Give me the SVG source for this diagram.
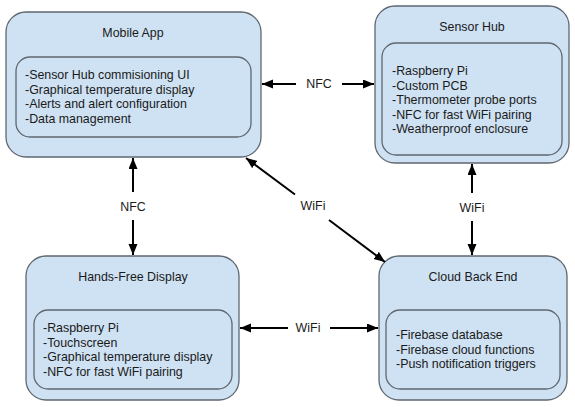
<svg xmlns="http://www.w3.org/2000/svg" width="575" height="407" viewBox="0 0 575 407">
<defs>
<marker id="ah" markerUnits="userSpaceOnUse" markerWidth="12" markerHeight="10" refX="11" refY="4.5" orient="auto">
<path d="M0,0 L11,4.5 L0,9 z" fill="#000"/>
</marker>
</defs>
<style>
.outer{fill:#cfe2f3;stroke:#5f6770;stroke-width:1.3}
.inner{fill:#cfe2f3;stroke:#5f6770;stroke-width:1.3}
text{font-family:"Liberation Sans",Arial,sans-serif;font-size:12.4px;fill:#1a1a1a}
.t{text-anchor:middle}
.c{stroke:#000;stroke-width:2;fill:none;marker-end:url(#ah)}
.lbl{text-anchor:middle;dominant-baseline:central}
</style>
<rect width="575" height="407" fill="#fff"/>
<g id="mobile-app">
<rect class="outer" x="6" y="12" width="255" height="145" rx="20"/>
<text class="t" x="133" y="37">Mobile App</text>
<rect class="inner" x="16" y="57" width="235" height="80" rx="14"/>
<text x="25" y="79">-Sensor Hub commisioning UI</text>
<text x="25" y="93.5">-Graphical temperature display</text>
<text x="25" y="108">-Alerts and alert configuration</text>
<text x="25" y="122.5">-Data management</text>
</g>
<g id="sensor-hub">
<rect class="outer" x="375" y="6" width="194" height="157" rx="20"/>
<text class="t" x="472" y="31">Sensor Hub</text>
<rect class="inner" x="382" y="43" width="180" height="112" rx="14"/>
<text x="392" y="75">-Raspberry Pi</text>
<text x="392" y="89.5">-Custom PCB</text>
<text x="392" y="104">-Thermometer probe ports</text>
<text x="392" y="118.5">-NFC for fast WiFi pairing</text>
<text x="392" y="133">-Weatherproof enclosure</text>
</g>
<g id="hands-free-display">
<rect class="outer" x="26" y="256" width="213" height="144" rx="20"/>
<text class="t" x="133" y="281">Hands-Free Display</text>
<rect class="inner" x="34" y="310" width="198" height="79" rx="14"/>
<text x="43" y="332">-Raspberry Pi</text>
<text x="43" y="346.5">-Touchscreen</text>
<text x="43" y="361">-Graphical temperature display</text>
<text x="43" y="375.5">-NFC for fast WiFi pairing</text>
</g>
<g id="cloud-back-end">
<rect class="outer" x="379" y="256" width="188" height="144" rx="20"/>
<text class="t" x="473" y="281">Cloud Back End</text>
<rect class="inner" x="386" y="310" width="174" height="79" rx="14"/>
<text x="396" y="339">-Firebase database</text>
<text x="396" y="353.5">-Firebase cloud functions</text>
<text x="396" y="368">-Push notification triggers</text>
</g>
<g id="connectors">
<line class="c" x1="296" y1="84" x2="262" y2="84"/>
<line class="c" x1="342" y1="84" x2="374" y2="84"/>
<text class="lbl" x="319" y="84">NFC</text>
<line class="c" x1="133" y1="192" x2="133" y2="158"/>
<line class="c" x1="133" y1="220" x2="133" y2="255"/>
<text class="lbl" x="133" y="207">NFC</text>
<line class="c" x1="472" y1="193" x2="472" y2="164"/>
<line class="c" x1="472" y1="221" x2="472" y2="255"/>
<text class="lbl" x="472" y="208">WiFi</text>
<line class="c" x1="288" y1="328" x2="240" y2="328"/>
<line class="c" x1="330" y1="328" x2="378" y2="328"/>
<text class="lbl" x="308" y="328">WiFi</text>
<line class="c" x1="295" y1="194.5" x2="246" y2="158"/>
<line class="c" x1="329" y1="220" x2="385" y2="262"/>
<text class="lbl" x="313" y="206">WiFi</text>
</g>
</svg>
